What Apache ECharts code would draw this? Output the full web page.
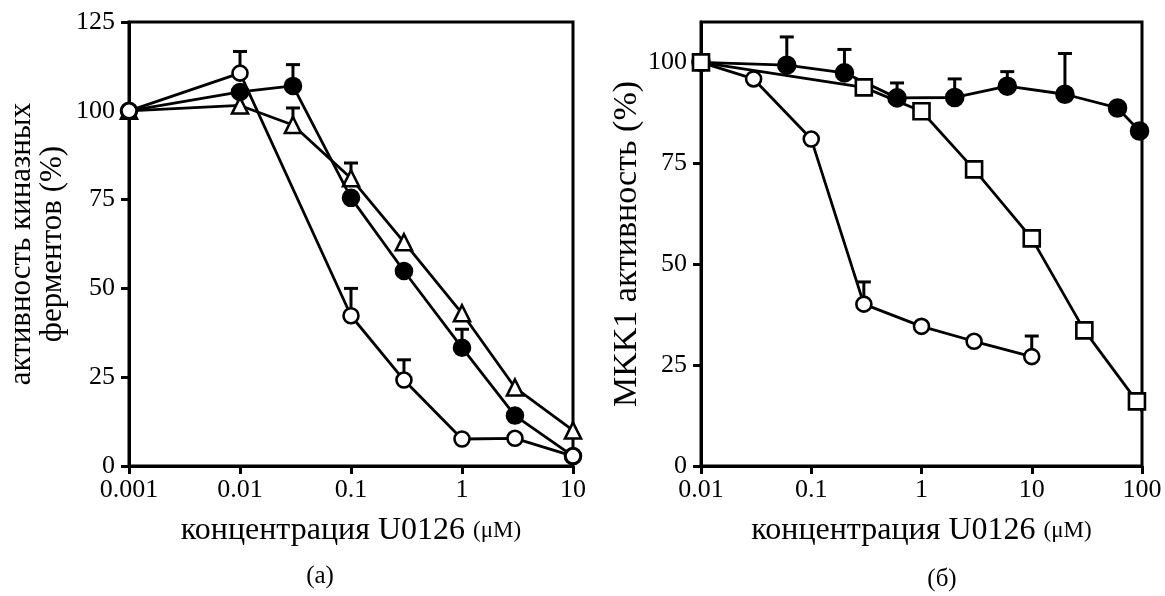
<!DOCTYPE html>
<html>
<head>
<meta charset="utf-8">
<script src="https://cdn.jsdelivr.net/npm/echarts@6/dist/echarts.min.js"></script>
<style>
  html, body { margin: 0; padding: 0; background: #fff; }
  #chart { width: 1165px; height: 596px; }
</style>
</head>
<body>
<div id="chart"></div>
<script>
// (a) left panel
var concOpenA = [0.001, 0.01, 0.1, 0.3, 1, 3, 10];
var openA = [100, 110.6, 42.3, 24.2, 7.6, 7.8, 2.8];
var concA = [0.001, 0.01, 0.03, 0.1, 0.3, 1, 3, 10];
var filledA = [100, 105.3, 107, 75.5, 54.9, 33.3, 14.2, 2.8];
var triA = [100, 101.5, 96, 81, 63, 43, 22.1, 10];
// upper error bars [conc, mean, top]
var errOpenA = [[0.01, 110.6, 116.7], [0.1, 42.3, 50], [0.3, 24.2, 29.9]];
var errFilledA = [[0.03, 107, 113], [1, 33.3, 38.5]];
var errTriA = [[0.03, 96, 100.8], [0.1, 81, 85.3]];
var ticksA = [0, 25, 50, 75, 100, 125];

// (б) right panel
var concFilledB = [0.01, 0.06, 0.2, 0.6, 2, 6, 20, 60, 95];
var filledB = [100, 99.3, 97.4, 91.2, 91.3, 94.1, 92.1, 88.7, 83];
var concSquareB = [0.01, 0.3, 1, 3, 10, 30, 90, 100];
var squareB = [100, 93.8, 87.9, 73.5, 56.4, 33.6, 16, 13.5];
var concOpenB = [0.01, 0.03, 0.1, 0.3, 1, 3, 10];
var openB = [100, 95.9, 81, 40.1, 34.6, 30.9, 27.1];
var errFilledB = [[0.06, 99.3, 106.3], [0.2, 97.4, 103.2], [0.6, 91.2, 94.9], [2, 91.3, 95.9], [6, 94.1, 97.7], [20, 92.1, 102.2]];
var errOpenB = [[0.3, 40.1, 45.6], [10, 27.1, 32.2]];
var ticksB = [0, 25, 50, 75, 100];

var FONT = 'Liberation Serif';

function pairs(xs, ys) {
  var out = [];
  for (var i = 0; i < xs.length; i++) out.push([xs[i], ys[i]]);
  return out;
}

function fmtLog(v) { return String(+v.toPrecision(3)); }

// T shaped cap above the point
function errSeries(data, xi, yi) {
  return {
    type: 'custom',
    xAxisIndex: xi, yAxisIndex: yi,
    z: 1,
    encode: { x: 0, y: [1, 2] },
    data: data,
    renderItem: function(params, api) {
      var p0 = api.coord([api.value(0), api.value(1)]);
      var p1 = api.coord([api.value(0), api.value(2)]);
      var st = { stroke: '#000', lineWidth: 3 };
      return {
        type: 'group',
        children: [
          { type: 'line', shape: { x1: p0[0], y1: p0[1] - 7, x2: p1[0], y2: p1[1] }, style: st },
          { type: 'line', shape: { x1: p1[0] - 7, y1: p1[1], x2: p1[0] + 7, y2: p1[1] }, style: st }
        ]
      };
    }
  };
}

function lineSeries(data, xi, yi, symbol, size, fill, z) {
  return {
    type: 'line',
    xAxisIndex: xi, yAxisIndex: yi,
    data: data,
    symbol: symbol,
    symbolSize: size,
    showAllSymbol: true,
    z: z,
    lineStyle: { color: '#000', width: 2.8 },
    itemStyle: { color: fill, borderColor: '#000', borderWidth: 2.6, opacity: 1 },
    emphasis: { disabled: true },
    animation: false
  };
}

var squareData = pairs(concSquareB, squareB);
squareData[squareData.length - 1] = { value: squareData[squareData.length - 1], symbol: 'none' };

var axisStyle = { lineStyle: { color: '#000', width: 3 } };

var nameRich = {
  u: { fontFamily: FONT, fontSize: 23, color: '#000' }
};

function xAx(gi, min, max) {
  return {
    type: 'log', logBase: 10, gridIndex: gi, min: min, max: max,
    name: 'концентрация U0126 {u|(μM)}',
    nameLocation: 'middle', nameGap: 49,
    nameTextStyle: { fontFamily: FONT, fontSize: 32, color: '#000', rich: nameRich },
    axisLine: axisStyle,
    axisTick: { show: true, length: 8, lineStyle: { color: '#000', width: 3 } },
    splitLine: { show: false }, minorTick: { show: false },
    axisLabel: { fontFamily: FONT, fontSize: 26, color: '#000', margin: 11, formatter: fmtLog,
      showMinLabel: true, showMaxLabel: true }
  };
}

function yAx(gi, max, ticks, name, gap, size, lh) {
  return {
    type: 'value', gridIndex: gi, min: 0, max: max, interval: 25,
    name: name, nameLocation: 'middle', nameGap: gap, nameRotate: 90,
    nameTextStyle: { fontFamily: FONT, fontSize: size, color: '#000', lineHeight: lh },
    axisLine: axisStyle,
    axisTick: { show: true, length: 8, customValues: ticks, lineStyle: { color: '#000', width: 3 } },
    splitLine: { show: false },
    axisLabel: { fontFamily: FONT, fontSize: 26, color: '#000', margin: 14, customValues: ticks }
  };
}

var chart = echarts.init(document.getElementById('chart'));

var option = {
  backgroundColor: '#fff',
  animation: false,
  title: [
    { text: '(a)', left: 315, top: 559, textAlign: 'center',
      textStyle: { fontFamily: FONT, fontSize: 25, fontWeight: 'normal', color: '#000' } },
    { text: '(б)', left: 937, top: 562, textAlign: 'center',
      textStyle: { fontFamily: FONT, fontSize: 25, fontWeight: 'normal', color: '#000' } }
  ],
  grid: [
    { left: 129, right: 592, top: 22, bottom: 130, show: true, borderColor: '#000', borderWidth: 3 },
    { left: 701, right: 23, top: 22, bottom: 130, show: true, borderColor: '#000', borderWidth: 3 }
  ],
  xAxis: [xAx(0, 0.001, 10), xAx(1, 0.01, 100)],
  yAxis: [
    yAx(0, 125, ticksA, 'активность киназных\nферментов (%)', 61, 31, 31),
    yAx(1, 110, ticksB, 'MKK1 активность (%)', 55, 34, 34)
  ],
  series: [
    errSeries(errFilledA, 0, 0),
    errSeries(errTriA, 0, 0),
    errSeries(errOpenA, 0, 0),
    lineSeries(pairs(concA, triA), 0, 0, 'triangle', 16, '#fff', 3),
    lineSeries(pairs(concA, filledA), 0, 0, 'circle', 16, '#000', 4),
    lineSeries(pairs(concOpenA, openA), 0, 0, 'circle', 15, '#fff', 5),

    errSeries(errFilledB, 1, 1),
    errSeries(errOpenB, 1, 1),
    lineSeries(pairs(concOpenB, openB), 1, 1, 'circle', 15, '#fff', 3),
    lineSeries(pairs(concFilledB, filledB), 1, 1, 'circle', 17, '#000', 4),
    lineSeries(squareData, 1, 1, 'rect', 16, '#fff', 5)
  ]
};

chart.setOption(option);
</script>
</body>
</html>
